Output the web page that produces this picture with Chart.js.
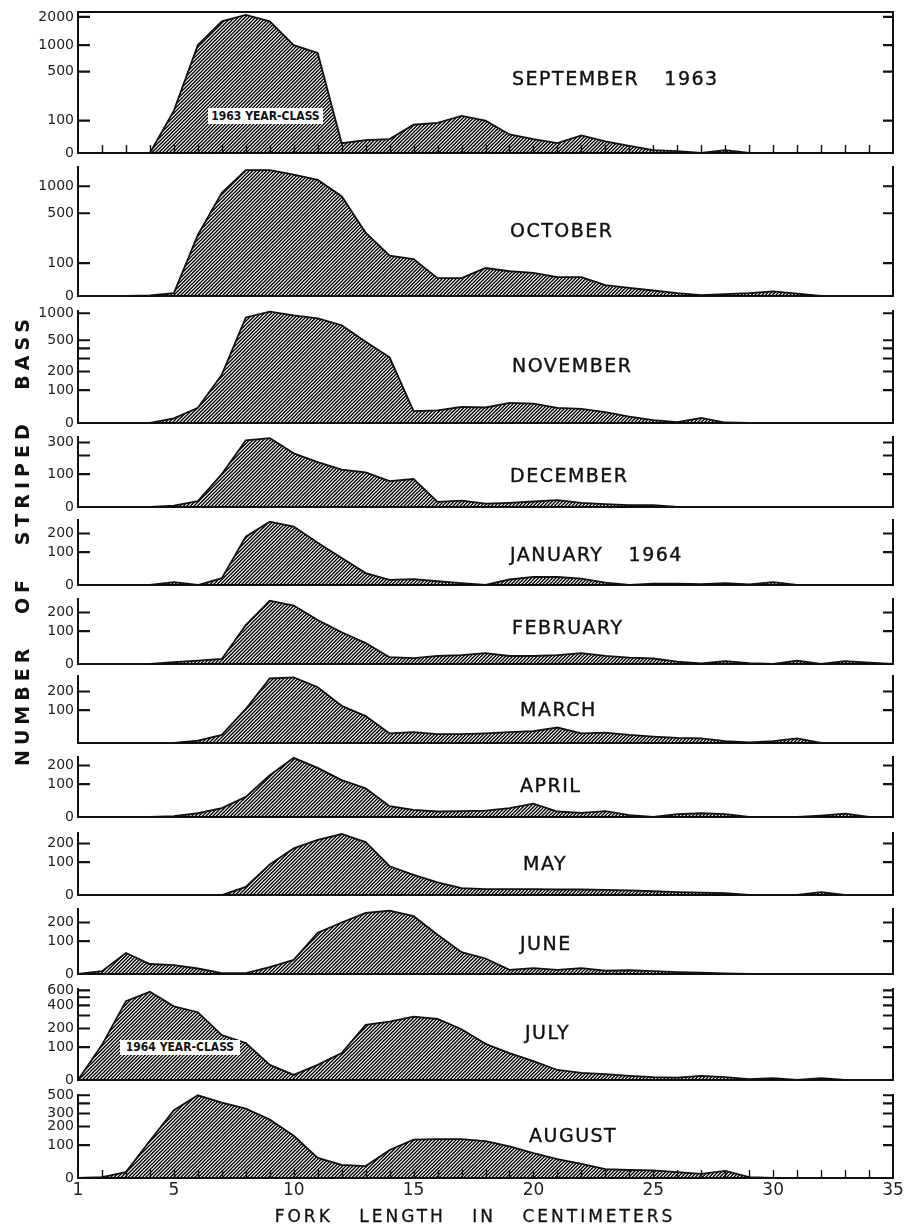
<!DOCTYPE html>
<html><head><meta charset="utf-8">
<script src="https://cdn.jsdelivr.net/npm/chart.js@4.4.0/dist/chart.umd.min.js"></script>
<style>
html,body{margin:0;padding:0;background:#fff;}
#wrap{position:relative;width:907px;height:1231px;overflow:hidden;background:#fff;}
canvas.panel{position:absolute;left:0;top:0;}
.lbl{position:absolute;font-family:'DejaVu Sans',sans-serif;color:#111;white-space:pre;z-index:5;}
.month{font-size:19px;letter-spacing:1.5px;word-spacing:5px;-webkit-text-stroke:0.4px #111;line-height:19px;transform:translateY(-50%);}
.yc{font-family:'DejaVu Sans Condensed','DejaVu Sans',sans-serif;font-size:12px;font-weight:bold;background:#fff;text-align:center;}
.ytitle{font-size:19px;font-weight:bold;letter-spacing:5px;word-spacing:18px;line-height:22px;transform:translate(-50%,-50%) rotate(-90deg);}
.xtitle{font-size:17px;letter-spacing:3px;word-spacing:18px;-webkit-text-stroke:0.3px #111;line-height:20px;transform:translate(-50%,-50%);}
</style></head>
<body><div id="wrap"></div>
<script>
// ---------------- data ----------------
const forkLengthCm = [1,2,3,4,5,6,7,8,9,10,11,12,13,14,15,16,17,18,19,20,21,22,23,24,25,26,27,28,29,30,31,32,33,34,35];
const monthNames = ['SEPTEMBER  1963','OCTOBER','NOVEMBER','DECEMBER','JANUARY  1964','FEBRUARY','MARCH','APRIL','MAY','JUNE','JULY','AUGUST'];

const sep1963 = [0,0,0,0,150,1000,1800,2100,1800,1000, 820,23,31,34,83,91,122,100,48,34, 23,45,28,16,6,4,0,6,0,0, 0,0,0,0,0];
const oct1963 = [0,0,0,1,6,270,850,1480,1480,1330, 1170,780,290,135,118,45,45,80,68,62, 48,48,25,18,12,6,2,4,6,10, 5,0,0,0,0];
const nov1963 = [0,0,0,0,10,37,180,900,1040,950, 880,740,480,310,28,30,40,38,52,50, 37,34,25,14,6,2,11,1,0,0, 0,0,0,0,0];
const dec1963 = [0,0,0,0,3,13,100,320,340,215, 160,120,108,72,80,11,14,7,9,12, 15,9,6,4,4,0,0,0,0,0, 0,0,0,0,0];
const jan1964 = [0,0,0,0,6,0,15,180,290,250, 145,76,28,11,13,8,4,0,12,18, 18,14,5,0,3,3,2,4,1,6, 0,0,0,0,0];
const feb1964 = [0,0,0,0,4,7,11,128,290,250, 155,95,55,15,13,18,20,25,18,18, 20,25,18,14,12,5,1,6,2,0, 7,0,6,3,0];
const mar1964 = [0,0,0,0,0,5,18,105,300,310, 230,120,76,22,25,20,20,22,25,28, 38,22,24,18,14,11,10,4,1,4, 10,0,0,0,0];
const apr1964 = [0,0,0,0,2,8,20,52,143,255, 185,118,83,25,16,12,13,14,20,32, 12,9,13,4,0,6,8,6,0,0, 0,3,7,0,0];
const may1964 = [0,0,0,0,0,0,0,18,90,170, 225,270,210,83,52,30,15,13,13,13, 12,12,11,10,8,6,5,4,0,0, 0,6,0,0,0];
const jun1964 = [0,6,55,23,20,12,2,2,15,34, 140,200,270,290,245,130,58,38,9,13, 9,13,7,8,6,4,3,1,0,0, 0,0,0,0,0];
const jul1964 = [0,110,450,580,390,330,160,118,37,11, 37,76,225,250,290,270,195,115,76,48, 23,16,13,9,6,5,9,6,2,4, 0,4,0,0,0];
const aug1964 = [0,2,13,120,330,500,410,345,250,145, 52,31,28,80,125,128,128,118,95,68, 48,34,20,18,17,13,9,16,2,0, 0,0,0,0,0];
const monthlySeries = [sep1963,oct1963,nov1963,dec1963,jan1964,feb1964,mar1964,apr1964,may1964,jun1964,jul1964,aug1964];

// tick values on the count axis, and which of them carry a label
const yTickValues = [
  [0,100,500,1000,2000],[0,100,500,1000],[0,100,200,300,400,500,1000],[0,100,200,300],
  [0,100,200],[0,100,200],[0,100,200],[0,100,200],[0,100,200],[0,100,200],
  [0,100,200,300,400,500,600],[0,100,200,300,400,500]
];
const yTickLabels = [
  [0,100,500,1000,2000],[0,100,500,1000],[0,100,200,500,1000],[0,100,300],
  [0,100,200],[0,100,200],[100,200],[0,100,200],[0,100,200],[0,100,200],
  [0,100,200,400,600],[0,100,200,300,500]
];
const xTickLabels = [1,5,10,15,20,25,30,35];
const yearClassNotes = ['1963 YEAR-CLASS','1964 YEAR-CLASS'];

// ---------------- layout (pixels) ----------------
const W = 907, H = 1231, AXIS_LEFT = 78, AXIS_RIGHT = 893;
const panelTop  = [10,167,311,437,520,599,676,757,833,909,989,1095];
const panelBase = [153,296,423,507,585,664,743,817,895,974,1080,1178];
const monthX = [512,510,512,510,510,512,520,520,523,520,525,529];
const monthY = [78,230,365,475,554,627,709,785,863,943,1032,1135];

// ---------------- custom compressed count scale: ln(1 + n/90) ----------------
const PX_PER_UNIT = 44, OFFSET = 90;
const tf = v => Math.log(1 + Math.max(0, v) / OFFSET);
const tfi = t => OFFSET * (Math.exp(t) - 1);
class CompressedScale extends Chart.LinearScale {
  getPixelForValue(v) {
    const a = tf(this.min), b = tf(this.max);
    return this.getPixelForDecimal((tf(v) - a) / (b - a));
  }
  getValueForPixel(p) {
    const a = tf(this.min), b = tf(this.max);
    return tfi(a + this.getDecimalForPixel(p) * (b - a));
  }
}
CompressedScale.id = 'compressed';
CompressedScale.defaults = {};
Chart.register(CompressedScale);

function makeHatch() {
  const s = 7;
  const c = document.createElement('canvas'); c.width = s; c.height = s;
  const g = c.getContext('2d');
  g.strokeStyle = '#000'; g.lineWidth = 1.35;
  g.beginPath();
  [0, 3.5, 7, 10.5, 14].forEach(k => { g.moveTo(k + 2, -2); g.lineTo(k - 9, 9); });
  g.stroke();
  return g.createPattern(c, 'repeat');
}
const hatch = makeHatch();

const innerTicks = {
  id: 'innerTicks',
  afterDatasetsDraw(chart, args, opts) {
    const {ctx, chartArea: a, scales} = chart;
    ctx.save();
    ctx.strokeStyle = '#111';
    ctx.lineWidth = 2.2;
    ctx.beginPath();
    const yl = scales.y, yr = scales.yR;
    yl.ticks.forEach((t, k) => {
      if (t.value <= 0) return;
      const py = yl.getPixelForTick(k);
      ctx.moveTo(a.left, py); ctx.lineTo(a.left + 12, py);
    });
    yr.ticks.forEach((t, k) => {
      if (t.value <= 0) return;
      const py = yr.getPixelForTick(k);
      ctx.moveTo(a.right, py); ctx.lineTo(a.right - 10, py);
    });
    ctx.stroke();
    if (opts.xTicks) {
      ctx.lineWidth = 1.4;
      ctx.beginPath();
      const x = scales.x;
      x.ticks.forEach((t, k) => {
        if (k === 0 || k === x.ticks.length - 1) return;
        const px = Math.round(x.getPixelForTick(k)) + 0.5;
        ctx.moveTo(px, a.bottom); ctx.lineTo(px, a.bottom - 8);
      });
      ctx.stroke();
    }
    ctx.restore();
  }
};

const wrap = document.getElementById('wrap');
const FONT = "'DejaVu Sans', sans-serif";

monthlySeries.forEach((series, i) => {
  const cv = document.createElement('canvas');
  cv.width = W; cv.height = H; cv.className = 'panel';
  wrap.appendChild(cv);
  const yMax = tfi((panelBase[i] - panelTop[i]) / PX_PER_UNIT);
  const tickVals = yTickValues[i];
  const labeled = new Set(yTickLabels[i]);
  const isFirst = i === 0, isLast = i === monthlySeries.length - 1;
  const yCommon = {
    type: 'compressed', min: 0, max: yMax, bounds: 'data',
    grid: {display: false, drawTicks: false},
    border: {display: true, color: '#111', width: 2},
    afterBuildTicks: s => { s.ticks = tickVals.map(v => ({value: v})); }
  };
  const scales = {
    x: {
      type: 'linear', min: 1, max: 35, position: 'bottom',
      grid: {display: false, drawTicks: false},
      border: {display: true, color: '#111', width: 2},
      ticks: {display: isLast, autoSkip: false, maxRotation: 0, padding: 2, color: '#222',
              font: {family: FONT, size: 17},
              callback: v => xTickLabels.includes(v) ? String(v) : ''},
      afterBuildTicks: s => { s.ticks = forkLengthCm.map(v => ({value: v})); },
      afterFit: s => { s.height = H - panelBase[i]; }
    },
    y: Object.assign({}, yCommon, {
      position: 'left',
      ticks: {autoSkip: false, padding: 4, color: '#222', font: {family: FONT, size: 14},
              callback: v => labeled.has(v) ? String(v) : ''},
      afterFit: s => { s.width = AXIS_LEFT; }
    }),
    yR: Object.assign({}, yCommon, {
      position: 'right',
      ticks: {display: false},
      afterFit: s => { s.width = W - AXIS_RIGHT; }
    })
  };
  if (isFirst) {
    scales.xTop = {
      type: 'linear', min: 1, max: 35, position: 'top',
      grid: {display: false, drawTicks: false},
      border: {display: true, color: '#111', width: 2},
      ticks: {display: false},
      afterFit: s => { s.height = 0; }
    };
  }
  new Chart(cv, {
    type: 'line',
    data: {
      datasets: [{
        label: monthNames[i],
        data: forkLengthCm.map((x, j) => ({x: x, y: series[j]})),
        borderColor: '#111', borderWidth: 1.8,
        backgroundColor: hatch, fill: 'origin',
        pointRadius: 0, tension: 0, clip: false
      }]
    },
    options: {
      responsive: false, animation: false, events: [],
      layout: {padding: {top: panelTop[i], left: 0, right: 0, bottom: 0}},
      scales: scales,
      plugins: {legend: {display: false}, tooltip: {enabled: false},
                innerTicks: {xTicks: isFirst || isLast}}
    },
    plugins: [innerTicks]
  });

  const m = document.createElement('div');
  m.className = 'lbl month';
  m.textContent = monthNames[i];
  m.style.left = monthX[i] + 'px';
  m.style.top = monthY[i] + 'px';
  wrap.appendChild(m);
});

function addDiv(cls, text, css) {
  const d = document.createElement('div');
  d.className = 'lbl ' + cls; d.textContent = text;
  Object.assign(d.style, css);
  wrap.appendChild(d);
}
addDiv('yc', yearClassNotes[0], {left: '208px', top: '108px', width: '115px', height: '16px', lineHeight: '16px'});
addDiv('yc', yearClassNotes[1], {left: '120px', top: '1040px', width: '120px', height: '15px', lineHeight: '15px'});
addDiv('ytitle', 'NUMBER OF STRIPED BASS', {left: '22px', top: '540px'});
addDiv('xtitle', 'FORK LENGTH IN CENTIMETERS', {left: '475px', top: '1216px'});
</script>
</body></html>
